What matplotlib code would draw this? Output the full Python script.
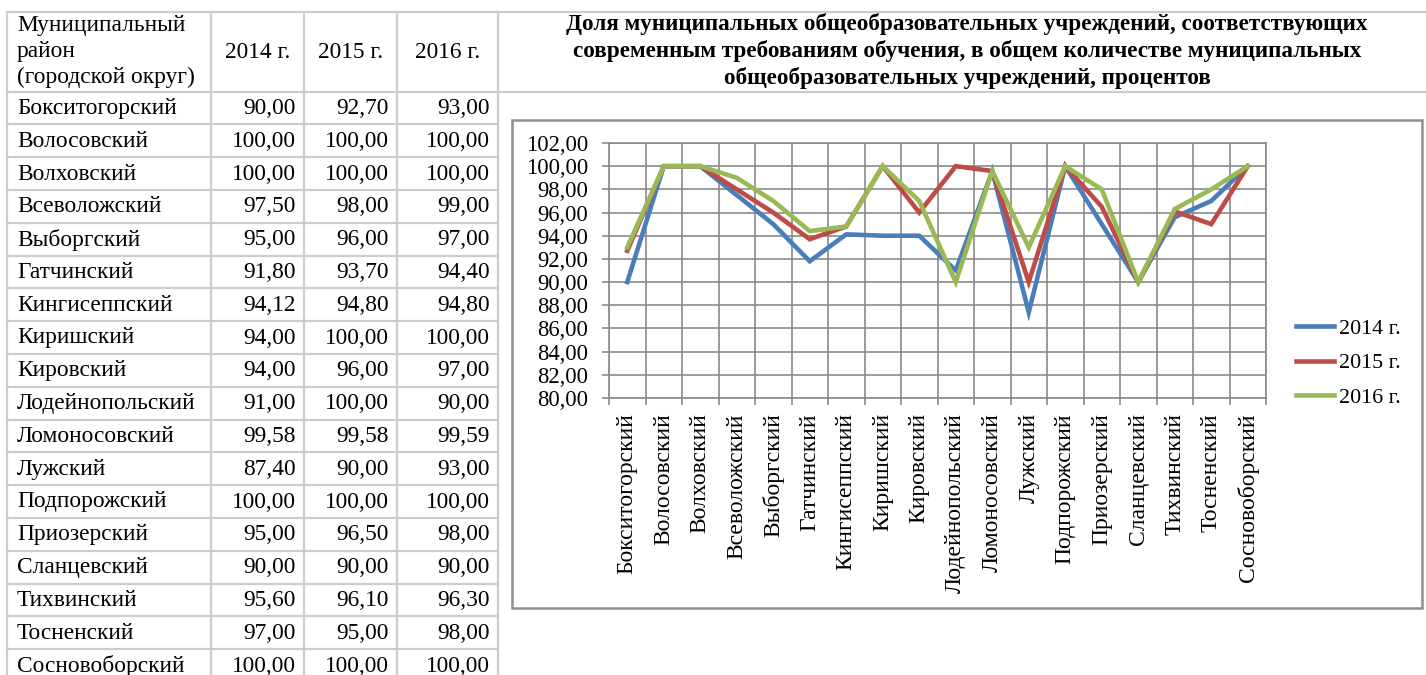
import matplotlib
matplotlib.use("Agg")
import matplotlib.pyplot as plt
from matplotlib.lines import Line2D
from matplotlib.patches import Rectangle
from matplotlib.ticker import FixedLocator, FuncFormatter

districts = ["Бокситогорский", "Волосовский", "Волховский", "Всеволожский",
             "Выборгский", "Гатчинский", "Кингисеппский", "Киришский",
             "Кировский", "Лодейнопольский", "Ломоносовский", "Лужский",
             "Подпорожский", "Приозерский", "Сланцевский", "Тихвинский",
             "Тосненский", "Сосновоборский"]
years = ["2014 г.", "2015 г.", "2016 г."]
v2014 = [90.00, 100.00, 100.00, 97.50, 95.00, 91.80, 94.12, 94.00, 94.00,
         91.00, 99.58, 87.40, 100.00, 95.00, 90.00, 95.60, 97.00, 100.00]
v2015 = [92.70, 100.00, 100.00, 98.00, 96.00, 93.70, 94.80, 100.00, 96.00,
         100.00, 99.58, 90.00, 100.00, 96.50, 90.00, 96.10, 95.00, 100.00]
v2016 = [93.00, 100.00, 100.00, 99.00, 97.00, 94.40, 94.80, 100.00, 97.00,
         90.00, 99.59, 93.00, 100.00, 98.00, 90.00, 96.30, 98.00, 100.00]
header_first = "Муниципальный\nрайон\n(городской округ)"
title = ("Доля муниципальных общеобразовательных учреждений, соответствующих\n"
         "современным требованиям обучения, в общем количестве муниципальных\n"
         "общеобразовательных учреждений, процентов")
y_ticks = [80, 82, 84, 86, 88, 90, 92, 94, 96, 98, 100, 102]

W, H = 1426, 675
plt.rcParams['font.family'] = ['Liberation Serif', 'DejaVu Serif']
fig = plt.figure(figsize=(W / 100, H / 100), dpi=100)


def fx(x):
    return x / W


def fy(y):
    return 1 - y / H


def fmt(v):
    return f"{v:.2f}".replace('.', ',')


tcol = '#cccccc'
# ---- table ----
col_x = [7, 211, 304, 397, 498]
header_top, header_bot = 12, 91.5
row_h = 32.8
nrows = len(districts)
row_lines = [header_bot + i * row_h for i in range(nrows + 1)]
fig.add_artist(Line2D([fx(7), fx(W)], [fy(header_top)] * 2, color=tcol, lw=1.6))
fig.add_artist(Line2D([fx(7), fx(W)], [fy(header_bot)] * 2, color=tcol, lw=1.6))
for y in row_lines[1:]:
    fig.add_artist(Line2D([fx(7), fx(498)], [fy(y)] * 2, color=tcol, lw=1.6))
for x in col_x:
    fig.add_artist(Line2D([fx(x)] * 2, [fy(header_top), fy(H + 20)], color=tcol, lw=1.6))

tfs = 16.8
fig.text(fx(17), fy(51.5), header_first, ha='left', va='center', fontsize=tfs,
         linespacing=1.32)
for j, yl in enumerate(years):
    fig.text(fx((col_x[j + 1] + col_x[j + 2]) / 2), fy(52), yl, ha='center',
             va='center', fontsize=tfs)
series = [v2014, v2015, v2016]
for i, d in enumerate(districts):
    yc = header_bot + (i + 0.5) * row_h + 0.5
    fig.text(fx(17), fy(yc), d, ha='left', va='center', fontsize=tfs)
    for j, s in enumerate(series):
        fig.text(fx(col_x[j + 2] - 8), fy(yc), fmt(s[i]), ha='right',
                 va='center', fontsize=tfs)

# ---- title ----
fig.text(fx(967), fy(51), title, ha='center', va='center', fontsize=16.7,
         fontweight='bold', linespacing=1.32)

# ---- chart box ----
fig.add_artist(Rectangle((fx(512), fy(608)), fx(1422) - fx(512), fy(120) - fy(608),
                         fill=False, edgecolor='#8e8e8e', lw=1.8))

# ---- chart ----
L, R, T, B = 609, 1266, 143, 398
ax = fig.add_axes([fx(L), fy(B), fx(R) - fx(L), fy(T) - fy(B)])
x = list(range(len(districts)))
colors = ['#4A7EBB', '#BE4B48', '#98B954']
for s, c, lab in zip(series, colors, years):
    ax.plot(x, s, color=c, lw=3.3, label=lab, solid_joinstyle='miter')
ax.set_xlim(-0.5, len(districts) - 0.5)
ax.set_ylim(80, 102)
gc = '#8a8a8a'
ax.yaxis.set_major_locator(FixedLocator(y_ticks))
ax.yaxis.set_major_formatter(FuncFormatter(lambda v, p: fmt(v)))
ax.xaxis.set_major_locator(FixedLocator(x))
ax.set_xticklabels(districts, rotation=90, va='top', ha='center', fontsize=17)
ax.xaxis.set_minor_locator(FixedLocator([i - 0.5 for i in range(len(districts) + 1)]))
ax.tick_params(axis='x', which='major', length=0, pad=11)
ax.tick_params(axis='x', which='minor', length=5, width=1.2, color=gc, direction='out')
ax.tick_params(axis='y', which='major', length=5, width=1.2, color=gc, labelsize=16.3, pad=10)
ax.grid(True, axis='y', which='major', color=gc, lw=1.2)
ax.grid(True, axis='x', which='minor', color=gc, lw=1.2)
ax.set_axisbelow(True)
for sp in ax.spines.values():
    sp.set_color(gc)
    sp.set_linewidth(1.2)

leg = ax.legend(loc='center left', bbox_to_anchor=(fx(1296), fy(363)),
                bbox_transform=fig.transFigure, frameon=False, fontsize=15.8,
                handlelength=1.75, handletextpad=0.2, labelspacing=0.64,
                borderpad=0, borderaxespad=0)

fig.savefig('out.png', dpi=100)
